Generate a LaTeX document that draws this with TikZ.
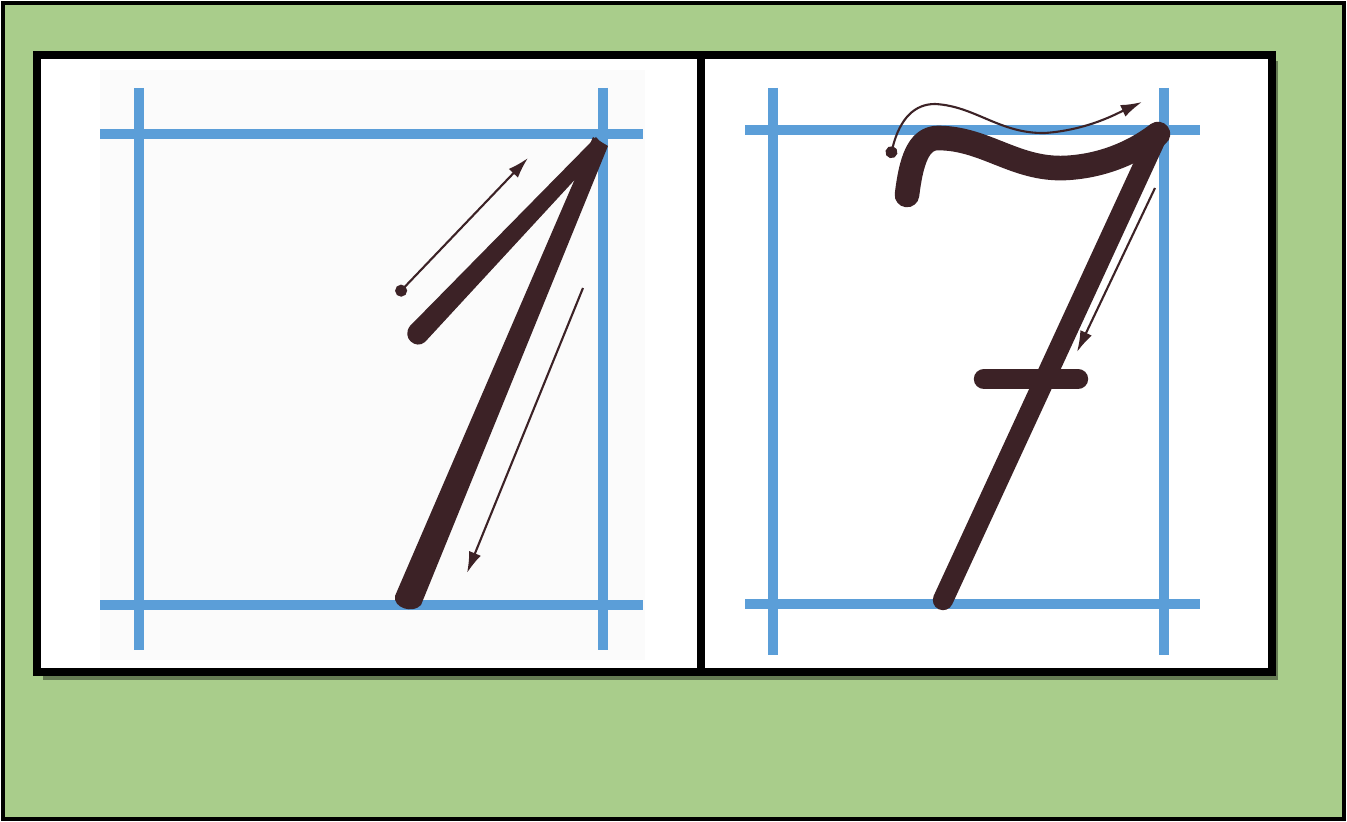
\documentclass[tikz,border=0pt]{standalone}
\usetikzlibrary{arrows.meta}
\definecolor{boardgreen}{RGB}{169,205,139}
\definecolor{ruleblue}{RGB}{91,158,216}
\definecolor{inkbrown}{RGB}{60,34,38}
\begin{document}
\begin{tikzpicture}[
x=0.01cm, y=-0.01cm,
frame/.style={draw=black, line width=2.3pt},
guide/.style={ruleblue, line width=2.9pt},
ink/.style={inkbrown, line width=5.8pt, line cap=round, line join=round},
hint/.style={inkbrown, line width=0.6pt, {Circle[length=3.4pt]}-{Latex[length=6pt,width=3.6pt]}},
hintdown/.style={inkbrown, line width=0.6pt, -{Latex[length=6pt,width=3.6pt]}}
]
\useasboundingbox (0,0) rectangle (1347,822);
\fill[boardgreen, draw=black, line width=1.4pt] (3,3) rectangle (1344,819);
\fill[black, opacity=0.4] (43,61) rectangle (1278,680);
\fill[white] (37,55) rectangle (1272,672);
\fill[gray!3] (100,70) rectangle (645,660);
\draw[frame] (37,55) rectangle (701,672);
\draw[frame] (701,55) rectangle (1272,672);
% left ruling
\draw[guide] (139,88) -- (139,650);
\draw[guide] (603,88) -- (603,650);
\draw[guide] (100,134) -- (643,134);
\draw[guide] (100,605) -- (643,605);
% right ruling
\draw[guide] (773,88) -- (773,655);
\draw[guide] (1164,88) -- (1164,655);
\draw[guide] (745,130) -- (1200,130);
\draw[guide] (745,604) -- (1200,604);
% digit one
\coordinate (oneTop) at (600,139);
\fill[inkbrown] (593,137) -- (608,146) -- (421,605)
  .. controls (413,614) and (393,608) .. (395,596) -- cycle;
\fill[inkbrown] (596,137) -- (605,147) -- (425,342)
  .. controls (416,350) and (401,338) .. (410,326) -- cycle;
\coordinate (oneUpStart) at (397,295);
\coordinate (oneUpEnd) at (528,158);
\coordinate (oneDownStart) at (583,288);
\coordinate (oneDownEnd) at (467,573);
\draw[hint] (oneUpStart) -- (oneUpEnd);
\draw[hintdown] (oneDownStart) -- (oneDownEnd);
% digit seven
\coordinate (sevenHook) at (907,195);
\coordinate (sevenCorner) at (1158,134);
\coordinate (sevenFoot) at (943,600);
\draw[ink, line width=7pt] (sevenHook) .. controls (911,162) and (918,138) .. (938,138)
  .. controls (985,138) and (1015,170) .. (1065,168)
  .. controls (1108,166) and (1140,148) .. (sevenCorner);
\draw[ink] (sevenCorner) -- (sevenFoot);
\coordinate (barLeft) at (984,379);
\coordinate (barRight) at (1078,379);
\draw[ink] (barLeft) -- (barRight);
\coordinate (sevenDot) at (890,158);
\coordinate (sevenTip) at (1142,102);
\draw[hint] (sevenDot) .. controls (900,118) and (915,104) .. (935,104)
  .. controls (975,106) and (1000,134) .. (1045,133)
  .. controls (1088,130) and (1118,113) .. (sevenTip);
\coordinate (sevenDownStart) at (1155,188);
\coordinate (sevenDownEnd) at (1077,352);
\draw[hintdown] (sevenDownStart) -- (sevenDownEnd);
\end{tikzpicture}
\end{document}
